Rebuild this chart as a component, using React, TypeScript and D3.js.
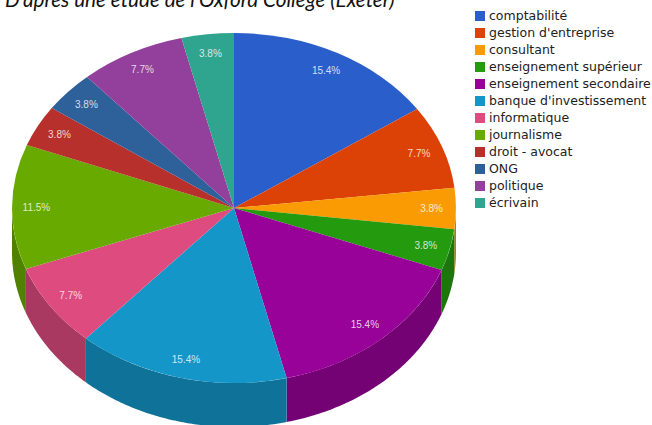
import React from 'react';
import * as d3 from 'd3';

const categories = ['comptabilité', "gestion d'entreprise", 'consultant', 'enseignement supérieur', 'enseignement secondaire', "banque d'investissement", 'informatique', 'journalisme', 'droit - avocat', 'ONG', 'politique', 'écrivain'];
const shares = [15.4, 7.7, 3.8, 3.8, 15.4, 15.4, 7.7, 11.5, 3.8, 3.8, 7.7, 3.8];
const colors = ['#2a5fcb', '#dc4106', '#fb9b04', '#249a0e', '#980298', '#1496c8', '#dd4b7f', '#68aa00', '#b8302b', '#2e6099', '#92409b', '#2fa58f'];
const title = "D'après une étude de l'Oxford College (Exeter)";

const width = 652;
const height = 425;
const cx = 234;
const cy = 208;
const rx = 222;
const ry = 175;
const depth = 44;

type Row = { name: string; share: number; color: string };
const rows: Row[] = categories.map((name, i) => ({ name, share: shares[i], color: colors[i] }));

const slices = d3.pie<Row>().sort(null).value(d => d.share)(rows);

// the pie is drawn on a unit circle, then squashed to an ellipse
const arcGen = d3.arc<d3.PieArcDatum<Row>>().innerRadius(0).outerRadius(1);
const labelArc = d3.arc<d3.PieArcDatum<Row>>().innerRadius(0.89).outerRadius(0.89);

const px = (a: number) => cx + rx * Math.sin(a);
const py = (a: number) => cy - ry * Math.cos(a);

const wall = d3.area<number>().x(px).y0(py).y1(a => py(a) + depth);

// only the part of a slice between 3 and 9 o'clock shows a side wall
const wallPath = (s: d3.PieArcDatum<Row>) => {
  const a0 = Math.max(s.startAngle, Math.PI / 2);
  const a1 = Math.min(s.endAngle, (3 * Math.PI) / 2);
  if (a1 <= a0) return null;
  return wall([...d3.range(a0, a1, 0.01), a1]);
};

const legendY = d3.scalePoint<string>().domain(categories).range([16, 203]);

export default function App() {
  return (
    <svg width={width} height={height} style={{ position: 'absolute', left: 0, top: 0, background: '#fff' }}>
      <text x={5} y={7} fontFamily="Lato" fontStyle="italic" fontSize={20.7} fill="#111">{title}</text>
      <g>
        {slices.map(s => {
          const d = wallPath(s);
          return d ? <path key={s.data.name} d={d} fill={d3.color(s.data.color)!.darker(0.75).formatHex()} /> : null;
        })}
      </g>
      <g transform={`translate(${cx},${cy}) scale(${rx},${ry})`}>
        {slices.map(s => (
          <path key={s.data.name} d={arcGen(s)!} fill={s.data.color} />
        ))}
      </g>
      <g fontFamily="Liberation Sans" fontSize={10} fill="#fff" fillOpacity={0.8} textAnchor="middle">
        {slices.map(s => {
          const [x, y] = labelArc.centroid(s);
          return (
            <text key={s.data.name} x={cx + x * rx} y={cy + y * ry} dy="0.35em">{s.data.share.toFixed(1)}%</text>
          );
        })}
      </g>
      <g fontFamily="DejaVu Sans" fontSize={12.5} fill="#222">
        {rows.map(r => (
          <g key={r.name} transform={`translate(475,${legendY(r.name)})`}>
            <rect x={0} y={-5} width={10} height={10} fill={r.color} />
            <text x={14} dy="0.35em">{r.name}</text>
          </g>
        ))}
      </g>
    </svg>
  );
}
